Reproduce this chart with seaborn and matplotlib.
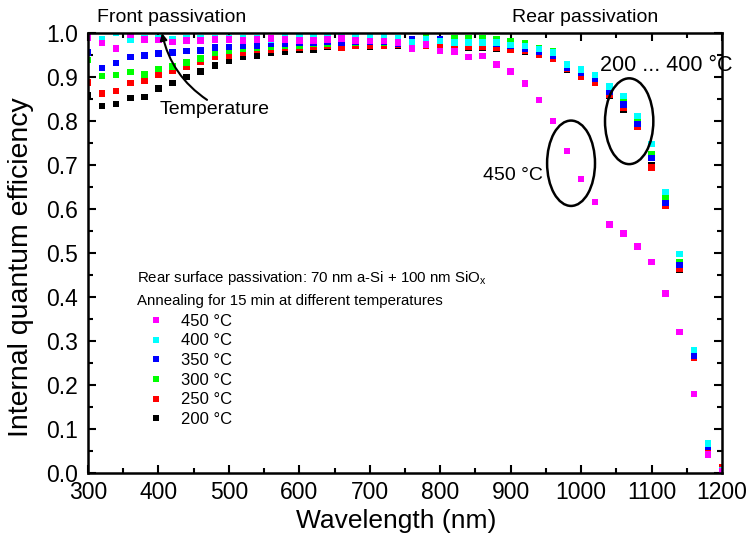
import numpy as np
import matplotlib
matplotlib.use("Agg")
import matplotlib.pyplot as plt
from matplotlib.lines import Line2D
from matplotlib.patches import Ellipse
from matplotlib.ticker import MultipleLocator, FormatStrFormatter
import seaborn as sns
import pandas as pd

wavelength = list(range(300, 1201, 20))

iqe_450 = [0.990, 0.977, 0.965, 0.995, 0.985, 0.984, 0.980, 0.983, 0.983, 0.985,
           0.985, 0.983, 0.985, 0.988, 0.985, 0.983, 0.983, 0.985, 0.988, 0.983,
           0.982, 0.982, 0.979, 0.965, 0.974, 0.959, 0.958, 0.945, 0.948, 0.929,
           0.912, 0.885, 0.848, 0.800, 0.732, 0.668, 0.616, 0.565, 0.544, 0.515,
           0.480, 0.408, 0.321, 0.180, 0.042, 0.003]
iqe_400 = [0.995, 0.986, 1.000, 0.984, 0.988, 0.987, 0.986, 0.987, 0.988, 0.988,
           0.989, 0.988, 0.988, 0.985, 0.990, 0.990, 0.990, 0.992, 0.990, 0.992,
           0.994, 0.991, 0.987, 0.979, 0.985, 0.982, 0.979, 0.979, 0.979, 0.979,
           0.973, 0.970, 0.964, 0.956, 0.929, 0.917, 0.905, 0.878, 0.857, 0.811,
           0.748, 0.639, 0.498, 0.280, 0.067, 0.006]
iqe_350 = [0.956, 0.921, 0.932, 0.945, 0.949, 0.953, 0.956, 0.959, 0.960, 0.967,
           0.968, 0.971, 0.971, 0.975, 0.976, 0.977, 0.978, 0.980, 0.978, 0.980,
           0.980, 0.980, 0.976, 0.986, 0.982, 0.986, 0.980, 0.978, 0.978, 0.976,
           0.970, 0.965, 0.958, 0.948, 0.922, 0.910, 0.895, 0.866, 0.838, 0.793,
           0.716, 0.614, 0.473, 0.266, 0.060, 0.005]
iqe_300 = [0.939, 0.902, 0.905, 0.911, 0.906, 0.918, 0.924, 0.933, 0.942, 0.955,
           0.959, 0.964, 0.967, 0.969, 0.972, 0.972, 0.975, 0.976, 0.977, 0.978,
           0.980, 0.979, 0.980, 0.983, 0.992, 0.985, 0.987, 0.988, 0.989, 0.985,
           0.982, 0.977, 0.966, 0.958, 0.924, 0.912, 0.897, 0.870, 0.845, 0.801,
           0.725, 0.624, 0.480, 0.266, 0.067, 0.006]
iqe_250 = [0.888, 0.863, 0.868, 0.886, 0.892, 0.905, 0.914, 0.924, 0.935, 0.945,
           0.948, 0.955, 0.961, 0.963, 0.966, 0.966, 0.968, 0.970, 0.967, 0.972,
           0.972, 0.972, 0.973, 0.972, 0.972, 0.973, 0.970, 0.968, 0.968, 0.966,
           0.962, 0.959, 0.951, 0.942, 0.918, 0.901, 0.887, 0.860, 0.830, 0.786,
           0.694, 0.607, 0.465, 0.261, 0.058, 0.013]
iqe_200 = [0.859, 0.834, 0.839, 0.852, 0.855, 0.874, 0.886, 0.900, 0.912, 0.926,
           0.936, 0.945, 0.949, 0.956, 0.958, 0.961, 0.962, 0.969, 0.966, 0.971,
           0.969, 0.971, 0.972, 0.970, 0.970, 0.971, 0.968, 0.966, 0.966, 0.965,
           0.961, 0.958, 0.950, 0.941, 0.917, 0.900, 0.886, 0.858, 0.826, 0.789,
           0.700, 0.610, 0.461, 0.265, 0.058, 0.005]

temps = ["450 °C", "400 °C", "350 °C", "300 °C", "250 °C", "200 °C"]
colors = ["#ff00ff", "#00ffff", "#0000ff", "#00ff00", "#ff0000", "#000000"]
series = [iqe_450, iqe_400, iqe_350, iqe_300, iqe_250, iqe_200]

# long table, 200 °C first so magenta ends up on top
frames = []
for t, vals in reversed(list(zip(temps, series))):
    frames.append(pd.DataFrame({"Wavelength": wavelength, "IQE": vals, "Temp": t}))
df = pd.concat(frames, ignore_index=True)

sns.set_style("ticks")
plt.rcParams["font.family"] = ["Liberation Sans", "DejaVu Sans"]
plt.rcParams["mathtext.fontset"] = "custom"
plt.rcParams["mathtext.rm"] = "Liberation Sans"
for key in ["text.color", "axes.labelcolor", "xtick.color", "ytick.color", "axes.edgecolor"]:
    plt.rcParams[key] = "black"

fig = plt.figure(figsize=(7.5, 5.43), dpi=100)
ax = fig.add_axes([0.1173, 0.1289, 0.8454, 0.8103])

sns.scatterplot(data=df, x="Wavelength", y="IQE", hue="Temp",
                palette=dict(zip(temps, colors)), marker="s", s=22,
                linewidth=0, legend=False, ax=ax)

ax.set_xlim(300, 1200)
ax.set_ylim(0, 1.0)
ax.xaxis.set_major_locator(MultipleLocator(100))
ax.xaxis.set_minor_locator(MultipleLocator(50))
ax.yaxis.set_major_locator(MultipleLocator(0.1))
ax.yaxis.set_minor_locator(MultipleLocator(0.05))
ax.yaxis.set_major_formatter(FormatStrFormatter("%.1f"))
ax.tick_params(which="both", direction="in", top=True, right=True, width=1.5)
ax.tick_params(which="major", length=6, labelsize=16.5)
ax.tick_params(which="minor", length=3.5)
ax.tick_params(axis="x", which="major", pad=6)
ax.tick_params(axis="y", which="major", pad=7)
for sp in ax.spines.values():
    sp.set_visible(True)
    sp.set_linewidth(1.8)

ax.set_xlabel("Wavelength (nm)", fontsize=19)
ax.set_ylabel("Internal quantum efficiency", fontsize=20.5)
ax.xaxis.set_label_coords(0.486, -0.082)
ax.yaxis.set_label_coords(-0.085, 0.468)

# annotations
ax.text(313, 1.036, "Front passivation", fontsize=14, va="center", ha="left", clip_on=False)
ax.text(1005, 1.036, "Rear passivation", fontsize=14, va="center", ha="center", clip_on=False)
ax.text(402, 0.826, "Temperature", fontsize=14, va="center", ha="left")
ax.annotate("", xy=(405, 1.0), xytext=(469, 0.848),
            arrowprops=dict(arrowstyle="-|>", color="black", lw=1.5,
                            connectionstyle="arc3,rad=-0.2", mutation_scale=10,
                            shrinkA=0, shrinkB=0))
ax.text(1027, 0.927, "200 ... 400 °C", fontsize=15.5, va="center", ha="left")
ax.text(861, 0.677, "450 °C", fontsize=14, va="center", ha="left")
ax.add_patch(Ellipse((985.7, 0.704), 68, 0.194, fill=False, lw=1.8, color="black"))
ax.add_patch(Ellipse((1068.2, 0.7995), 68.6, 0.195, fill=False, lw=1.8, color="black"))

ax.text(370, 0.443, "Rear surface passivation: 70 nm a-Si + 100 nm SiO$_\\mathregular{x}$",
        fontsize=10.8, va="center", ha="left")
ax.text(370, 0.392, "Annealing for 15 min at different temperatures",
        fontsize=10.8, va="center", ha="left")

handles = [Line2D([], [], marker="s", linestyle="none", markersize=4.5,
                  markerfacecolor=c, markeredgewidth=0) for c in colors]
ax.legend(handles, temps, loc="upper left", bbox_to_anchor=(0.094, 0.362),
          frameon=False, fontsize=12, borderpad=0, borderaxespad=0,
          handlelength=1.0, handletextpad=1.0, labelspacing=0.28)

fig.savefig("out.png", dpi=100)
